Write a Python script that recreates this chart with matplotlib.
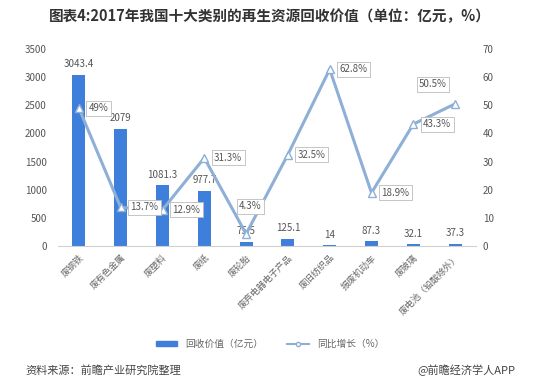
import matplotlib
matplotlib.use("Agg")
import matplotlib.pyplot as plt
import numpy as np

plt.rcParams['font.family'] = ['Noto Sans CJK SC', 'DejaVu Sans']

categories = ["废钢铁", "废有色金属", "废塑料", "废纸", "废轮胎",
              "废弃电器电子产品", "废旧纺织品", "报废机动车", "废玻璃", "废电池（铅酸除外）"]
values = [3043.4, 2079, 1081.3, 977.7, 75.5, 125.1, 14, 87.3, 32.1, 37.3]
growth = [49, 13.7, 12.9, 31.3, 4.3, 32.5, 62.8, 18.9, 43.3, 50.5]
value_labels = ["3043.4", "2079", "1081.3", "977.7", "75.5", "125.1", "14", "87.3", "32.1", "37.3"]
growth_labels = ["49%", "13.7%", "12.9%", "31.3%", "4.3%", "32.5%", "62.8%", "18.9%", "43.3%", "50.5%"]

bar_color = "#3E7FDB"
line_color = "#8EAFD6"
text_color = "#555555"

fig = plt.figure(figsize=(5.4, 3.85), dpi=100)
ax = fig.add_axes([58/540, 1 - 246/385, (476 - 58)/540, (246 - 49)/385])
ax2 = ax.twinx()

x = np.arange(len(categories))
ax.bar(x, values, width=0.31, color=bar_color, zorder=2)
ax.set_ylim(0, 3500)
ax.set_yticks(np.arange(0, 3501, 500))
ax.set_xlim(-0.5, len(categories) - 0.5)

ax2.plot(x, growth, color=line_color, lw=2.2, marker='^', markersize=6,
         markerfacecolor='white', markeredgecolor=line_color, zorder=3)
ax2.set_ylim(0, 70)
ax2.set_yticks(np.arange(0, 71, 10))

for a in (ax, ax2):
    for s in a.spines.values():
        s.set_visible(False)
    a.tick_params(length=0, labelsize=7, colors=text_color)
ax.spines['bottom'].set_visible(True)
ax.spines['bottom'].set_color('#D0D0D0')
ax.tick_params(axis='y', pad=8)
ax2.tick_params(axis='y', pad=5)

ax.set_xticks(x)
ax.set_xticklabels(categories, rotation=45, ha='right', rotation_mode='anchor',
                   fontsize=6.5, color='#666666')
ax.tick_params(axis='x', pad=5)

for xi, v, lab in zip(x, values, value_labels):
    ax.annotate(lab, (xi, v), xytext=(0, 4), textcoords='offset points',
                ha='center', va='bottom', fontsize=7, color=text_color, zorder=5)

offsets = {4: (3, 20), 9: (-16, 14)}
box = dict(boxstyle='square,pad=0.25', fc='white', ec='#BBBBBB', lw=0.6)
for i, (xi, g, lab) in enumerate(zip(x, growth, growth_labels)):
    dx, dy = offsets.get(i, (7, 0))
    ha = 'center' if i in offsets else 'left'
    ax2.annotate(lab, (xi, g), xytext=(dx, dy), textcoords='offset points',
                 ha=ha, va='center', fontsize=7, color=text_color, bbox=box, zorder=6)

fig.text(0.5, 1 - 16/385, "图表4:2017年我国十大类别的再生资源回收价值（单位：亿元，%）",
         ha='center', va='center', fontsize=10.5, fontweight='bold', color='#333333')

from matplotlib.lines import Line2D
from matplotlib.patches import Patch
handles = [Patch(color=bar_color, label="回收价值（亿元）"),
           Line2D([0], [0], color=line_color, lw=1.5, marker='o', markersize=3,
                  markerfacecolor='white', markeredgecolor=line_color, label="同比增长（%）")]
fig.legend(handles=handles, loc='center', bbox_to_anchor=(0.5, 1 - 344/385), ncol=2,
           frameon=False, fontsize=7, handlelength=2.2, handleheight=0.5,
           columnspacing=2.5, labelcolor='#666666')

fig.text(25/540, 1 - 370/385, "资料来源：前瞻产业研究院整理", ha='left', va='center',
         fontsize=8, style='italic', color='#444444')
fig.text(515/540, 1 - 370/385, "@前瞻经济学人APP", ha='right', va='center',
         fontsize=8, color='#444444')

fig.savefig("out.png", dpi=100, facecolor='white')
